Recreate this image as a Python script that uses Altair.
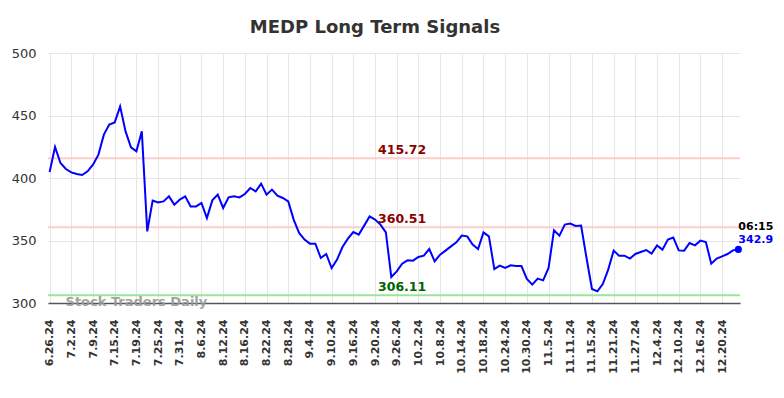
import altair as alt
import pandas as pd

dates = [
    "6.26.24", "6.27.24", "6.28.24", "7.1.24", "7.2.24", "7.3.24", "7.5.24", "7.8.24",
    "7.9.24", "7.10.24", "7.11.24", "7.12.24", "7.15.24", "7.16.24", "7.17.24", "7.18.24",
    "7.19.24", "7.22.24", "7.23.24", "7.24.24", "7.25.24", "7.26.24", "7.29.24", "7.30.24",
    "7.31.24", "8.1.24", "8.2.24", "8.5.24", "8.6.24", "8.7.24", "8.8.24", "8.9.24",
    "8.12.24", "8.13.24", "8.14.24", "8.15.24", "8.16.24", "8.19.24", "8.20.24", "8.21.24",
    "8.22.24", "8.23.24", "8.26.24", "8.27.24", "8.28.24", "8.29.24", "8.30.24", "9.3.24",
    "9.4.24", "9.5.24", "9.6.24", "9.9.24", "9.10.24", "9.11.24", "9.12.24", "9.13.24",
    "9.16.24", "9.17.24", "9.18.24", "9.19.24", "9.20.24", "9.23.24", "9.24.24", "9.25.24",
    "9.26.24", "9.27.24", "9.30.24", "10.1.24", "10.2.24", "10.3.24", "10.4.24", "10.7.24",
    "10.8.24", "10.9.24", "10.10.24", "10.11.24", "10.14.24", "10.15.24", "10.16.24", "10.17.24",
    "10.18.24", "10.21.24", "10.22.24", "10.23.24", "10.24.24", "10.25.24", "10.28.24", "10.29.24",
    "10.30.24", "10.31.24", "11.1.24", "11.4.24", "11.5.24", "11.6.24", "11.7.24", "11.8.24",
    "11.11.24", "11.12.24", "11.13.24", "11.14.24", "11.15.24", "11.18.24", "11.19.24", "11.20.24",
    "11.21.24", "11.22.24", "11.25.24", "11.26.24", "11.27.24", "11.29.24", "12.2.24", "12.3.24",
    "12.4.24", "12.5.24", "12.6.24", "12.9.24", "12.10.24", "12.11.24", "12.12.24", "12.13.24",
    "12.16.24", "12.17.24", "12.18.24", "12.19.24", "12.20.24", "12.23.24", "12.24.24", "12.26.24",
]

prices = [
    404.8, 424.8, 412.0, 407.2, 404.5, 403.2, 402.4, 405.3, 410.7, 418.7,
    434.7, 442.7, 444.5, 457.3, 437.3, 424.5, 421.3, 437.3, 357.3, 381.9,
    380.5, 381.3, 385.3, 378.7, 382.7, 385.3, 377.3, 377.3, 380.0, 368.0,
    382.1, 386.7, 376.0, 384.5, 385.3, 384.5, 387.2, 392.0, 389.3, 395.5,
    386.7, 390.7, 385.9, 384.0, 381.3, 366.7, 356.0, 350.7, 347.5, 347.5,
    336.0, 339.2, 328.0, 334.7, 344.8, 351.5, 356.8, 354.7, 361.9, 369.3,
    366.7, 362.7, 356.5, 320.8, 325.3, 331.5, 334.1, 333.9, 336.8, 337.9,
    343.2, 333.3, 338.7, 341.9, 345.3, 348.5, 353.9, 353.3, 346.7, 343.2,
    356.5, 353.3, 327.2, 329.9, 328.0, 330.1, 329.6, 329.6, 319.2, 314.7,
    319.5, 318.1, 328.0, 358.1, 353.9, 362.7, 363.5, 361.6, 361.9, 336.0,
    311.2, 309.3, 315.2, 326.7, 341.9, 337.9, 337.9, 335.5, 339.2, 340.8,
    342.4, 339.5, 346.1, 342.7, 350.7, 352.3, 342.1, 341.9, 348.0, 346.1,
    349.9, 348.8, 331.5, 335.5, 337.3, 339.2, 342.1, 342.9,
]

tick_labels = [
    "6.26.24", "7.2.24", "7.9.24", "7.15.24", "7.19.24", "7.25.24", "7.31.24", "8.6.24",
    "8.12.24", "8.16.24", "8.22.24", "8.28.24", "9.4.24", "9.10.24", "9.16.24", "9.20.24",
    "9.26.24", "10.2.24", "10.8.24", "10.14.24", "10.18.24", "10.24.24", "10.30.24", "11.5.24",
    "11.11.24", "11.15.24", "11.21.24", "11.27.24", "12.4.24", "12.10.24", "12.16.24", "12.20.24",
]

resistance_values = [415.72, 360.51]
resistance_labels = ["415.72", "360.51"]
support_values = [306.11]
support_labels = ["306.11"]

last_time = "06:15"
last_price = "342.9"
watermark = "Stock Traders Daily"

FONT = "DejaVu Sans"

df = pd.DataFrame({"date": dates, "price": prices})
res = pd.DataFrame({"value": resistance_values, "label": resistance_labels,
                    "date": [dates[65]] * len(resistance_values)})
sup = pd.DataFrame({"value": support_values, "label": support_labels,
                    "date": [dates[65]] * len(support_values)})
last = pd.DataFrame({"date": [dates[-1]], "price": [prices[-1]],
                     "t": [last_time], "p": [last_price]})
wm = pd.DataFrame({"date": [dates[16]], "price": [300.0], "text": [watermark]})

x_enc = alt.X(
    "date:O",
    sort=dates,
    scale=alt.Scale(type="point", padding=0.3),
    axis=alt.Axis(
        values=tick_labels, labelAngle=270, title=None, ticks=False,
        labelPadding=16, labelFontSize=11, labelFontWeight="bold",
        labelColor="#333333", labelFont=FONT, grid=True, gridColor="#e6e6e6",
        domainColor="#555555", domainWidth=1.5,
    ),
)
y_scale = alt.Scale(domain=[300, 500], nice=False, zero=False)
y_axis = alt.Axis(
    values=[300, 350, 400, 450, 500], title=None, ticks=False, domain=False,
    labelPadding=12, labelFontSize=13, labelColor="#333333", labelFont=FONT,
    gridColor="#e6e6e6",
)

line = alt.Chart(df).mark_line(color="#0000ff", strokeWidth=2).encode(
    x=x_enc,
    y=alt.Y("price:Q", scale=y_scale, axis=y_axis),
)

res_rule = alt.Chart(res).mark_rule(strokeWidth=2, color="#ffcccc").encode(
    y=alt.Y("value:Q", scale=y_scale))
sup_rule = alt.Chart(sup).mark_rule(strokeWidth=2, color="#99e699").encode(
    y=alt.Y("value:Q", scale=y_scale))

res_text = alt.Chart(res).mark_text(
    font=FONT, fontSize=12.5, fontWeight="bold", color="#8b0000", dy=-8,
).encode(x=alt.X("date:O", sort=dates), y=alt.Y("value:Q", scale=y_scale), text="label:N")

sup_text = alt.Chart(sup).mark_text(
    font=FONT, fontSize=12.5, fontWeight="bold", color="#006400", dy=-8,
).encode(x=alt.X("date:O", sort=dates), y=alt.Y("value:Q", scale=y_scale), text="label:N")

wm_text = alt.Chart(wm).mark_text(
    font=FONT, fontSize=13, fontWeight="bold", color="#999999", opacity=0.9, dy=-1,
).encode(x=alt.X("date:O", sort=dates), y=alt.Y("price:Q", scale=y_scale), text="text:N")

dot = alt.Chart(last).mark_circle(size=50, color="#0000ff", opacity=1).encode(
    x=alt.X("date:O", sort=dates), y=alt.Y("price:Q", scale=y_scale))

t_text = alt.Chart(last).mark_text(
    font=FONT, fontSize=11, fontWeight="bold", color="#000000", align="left", dx=0, dy=-22,
).encode(x=alt.X("date:O", sort=dates), y=alt.Y("price:Q", scale=y_scale), text="t:N")

p_text = alt.Chart(last).mark_text(
    font=FONT, fontSize=11, fontWeight="bold", color="#0000ff", align="left", dx=0, dy=-9,
).encode(x=alt.X("date:O", sort=dates), y=alt.Y("price:Q", scale=y_scale), text="p:N")

chart = alt.layer(res_rule, sup_rule, line, res_text, sup_text, wm_text, dot, t_text, p_text).properties(
    width=692, height=250,
    autosize=alt.AutoSizeParams(type="none"),
    padding={"left": 40, "top": 45, "right": 36, "bottom": 80},
    title=alt.TitleParams("MEDP Long Term Signals", font=FONT, fontSize=18,
                          fontWeight="bold", color="#333333", offset=10, dx=-19),
).configure_view(stroke=None).configure_axis(gridWidth=1)

chart.save("out.html", embed_options={"renderer": "svg", "actions": False})
